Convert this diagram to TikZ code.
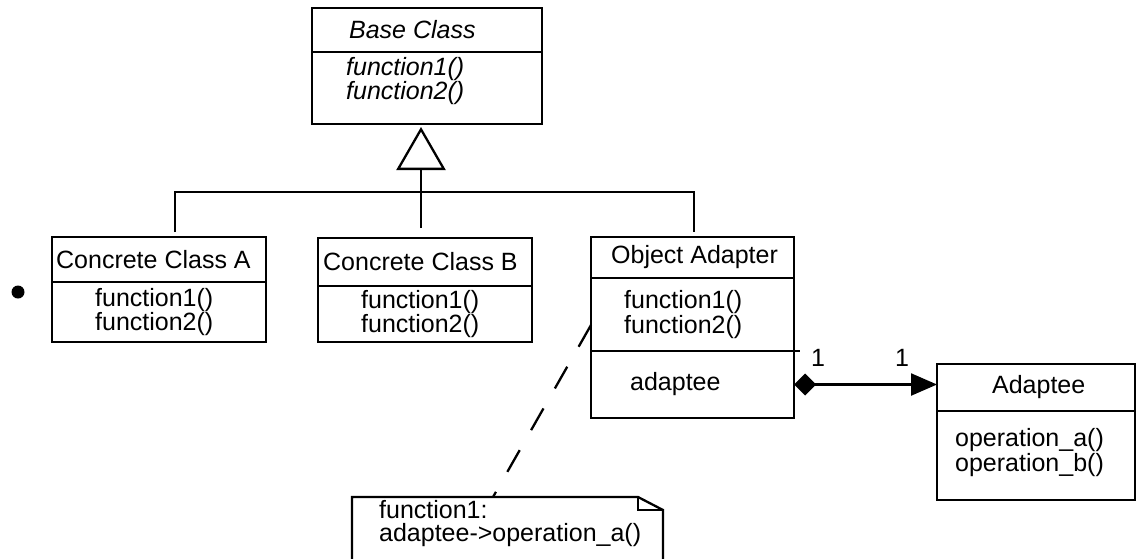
\documentclass[tikz,border=0pt]{standalone}
\usepackage{fontspec}
\setmainfont{Liberation Sans}
\usetikzlibrary{arrows.meta,positioning}
\newcommand{\umlsize}{\fontsize{25}{23}\selectfont}

\begin{document}
\begin{tikzpicture}[x=1pt,y=-1pt,line width=2.3pt,
    part/.style={draw,rectangle,anchor=north west,inner sep=0pt,outer sep=0pt},
    txt/.style={anchor=west,align=left,inner sep=0pt,font=\umlsize},
    mult/.style={inner sep=0pt,font=\umlsize}]
  \useasboundingbox (0,0) rectangle (1139,558);
  % base class
  \node[part,minimum width=230pt,minimum height=44pt] (baseH) at (312,8) {};
  \node[part,minimum width=230pt,minimum height=72pt] (baseB) at (312,52) {};
  \node[txt,font=\umlsize\itshape,right=36pt of baseH.west] (baseT) {Base Class};
  \node[txt,font=\umlsize\itshape,right=33pt of baseB.west,yshift=7pt] (baseF) {function1()\\function2()};
  \node[circle,fill,minimum size=13pt,inner sep=0pt] (dot) at (18,292) {};
  % concrete classes
  \node[part,minimum width=214pt,minimum height=45pt] (aH) at (52,237) {};
  \node[part,minimum width=214pt,minimum height=60pt] (aB) at (52,282) {};
  \node[txt,right=3pt of aH.west] (aT) {Concrete Class A};
  \node[txt,right=42pt of aB.west] (aF) {function1()\\function2()};
  \node[part,minimum width=214pt,minimum height=48pt] (bH) at (318,238) {};
  \node[part,minimum width=214pt,minimum height=56pt] (bB) at (318,286) {};
  \node[txt,right=4pt of bH.west] (bT) {Concrete Class B};
  \node[txt,right=42pt of bB.west] (bF) {function1()\\function2()};
  % object adapter
  \node[part,minimum width=203pt,minimum height=41pt] (oH) at (591,237) {};
  \node[part,minimum width=203pt,minimum height=73pt] (oF) at (591,278) {};
  \node[part,minimum width=203pt,minimum height=67pt] (oA) at (591,351) {};
  \node[txt,right=19pt of oH.west] (oT) {Object Adapter};
  \node[txt,right=32pt of oF.west] (oFT) {function1()\\function2()};
  \node[txt,right=38pt of oA.west] (oAT) {adaptee};
  \draw (oA.north east) -- ++(6,0);
  % adaptee
  \node[part,minimum width=198pt,minimum height=47pt] (adH) at (937,364) {};
  \node[part,minimum width=198pt,minimum height=89pt] (adB) at (937,411) {};
  \node[txt,right=54pt of adH.west] (adT) {Adaptee};
  \node[txt,right=17pt of adB.west,yshift=3pt] (adF) {operation\_a()\\operation\_b()};
  % note
  \node[part,draw=none,minimum width=311pt,minimum height=80pt] (note) at (352,497) {};
  \draw (note.north west) -- ([xshift=-25pt]note.north east) -- ([yshift=-13pt]note.north east)
    -- (note.south east) -- (note.south west) -- cycle;
  \draw ([xshift=-25pt]note.north east) |- ([yshift=-13pt]note.north east);
  \node[txt,right=26pt of note.north west,yshift=-26.5pt] (noteT) {function1:\\adaptee->operation\_a()};
  % connectors
  \coordinate (bus) at (421,192);
  \coordinate (jA) at ([xshift=16pt,yshift=5pt]aH.north);
  \coordinate (jB) at ([xshift=-4pt,yshift=10pt]bH.north);
  \coordinate (jO) at ([xshift=1.5pt,yshift=5pt]oH.north);
  \coordinate (triTip) at ([xshift=-6pt,yshift=-3pt]baseB.south);
  \draw (jA) -- (jA |- bus) -- (jO |- bus) -- (jO);
  \draw[-{Triangle[open,length=43pt,width=49pt]}] (jB) -- (triTip);
  \draw[{Diamond[length=22pt,width=22pt]}-{Triangle[length=26pt,width=22pt]}] (oA.east) -- (oA.east -| adH.west);
  \node[mult] (m1) at ([xshift=24pt,yshift=26.5pt]oA.east) {1};
  \node[mult] (m2) at ([xshift=-35pt,yshift=29.5pt]adH.west) {1};
  \coordinate (dA) at ([yshift=-10.5pt]oF.west);
  \coordinate (dB) at ([xshift=141pt]note.north west);
  \draw[dash pattern=on 25pt off 23pt] (dA) -- (dB);
\end{tikzpicture}
\end{document}
